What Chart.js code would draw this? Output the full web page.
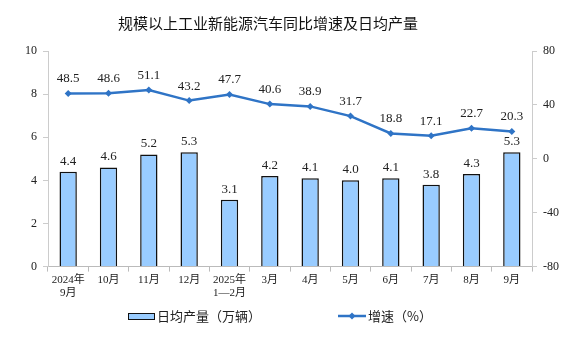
<!DOCTYPE html>
<html>
<head>
<meta charset="utf-8">
<script src="https://cdn.jsdelivr.net/npm/chart.js@4.4.1/dist/chart.umd.min.js"></script>
<style>
  html, body { margin: 0; padding: 0; background: #fff; }
  #wrap { width: 583px; height: 348px; }
</style>
</head>
<body>
<div id="wrap"><canvas id="graf" width="583" height="348"></canvas></div>
<script>
// dados do grafico
var meses = [['2024年', '9月'], '10月', '11月', '12月', ['2025年', '1—2月'], '3月', '4月', '5月', '6月', '7月', '8月', '9月']
var producao = [4.4, 4.6, 5.2, 5.3, 3.1, 4.2, 4.1, 4.0, 4.1, 3.8, 4.3, 5.3]
var crescimento = [48.5, 48.6, 51.1, 43.2, 47.7, 40.6, 38.9, 31.7, 18.8, 17.1, 22.7, 20.3]

var serif = '"Liberation Serif", "Noto Sans CJK SC", serif'
var azul = '#2f74c6'

// desenha rotulos, titulo e legenda
var extras = {
    id: 'extras',
    afterDatasetsDraw: function(chart){
        var ctx = chart.ctx
        ctx.save()
        ctx.fillStyle = '#222'
        ctx.font = '13px ' + serif
        ctx.textAlign = 'center'
        ctx.textBaseline = 'bottom'
        chart.getDatasetMeta(0).data.forEach(function(el, i){
            ctx.fillText(producao[i].toFixed(1), el.x, el.y - 4)
        })
        chart.getDatasetMeta(1).data.forEach(function(el, i){
            ctx.fillText(crescimento[i].toFixed(1), el.x, el.y - 8)
        })

        // titulo
        ctx.font = '15px "Noto Sans CJK SC", sans-serif'
        ctx.fillStyle = '#111'
        ctx.textBaseline = 'middle'
        ctx.fillText('规模以上工业新能源汽车同比增速及日均产量', 268, 23)

        // legenda
        ctx.fillStyle = '#99ccff'
        ctx.fillRect(128, 313, 26, 6)
        ctx.strokeStyle = '#111'
        ctx.lineWidth = 1
        ctx.strokeRect(128.5, 313.5, 26, 6)
        ctx.strokeStyle = azul
        ctx.lineWidth = 2.5
        ctx.beginPath()
        ctx.moveTo(338, 316)
        ctx.lineTo(366, 316)
        ctx.stroke()
        ctx.fillStyle = azul
        ctx.beginPath()
        ctx.moveTo(352, 312.5); ctx.lineTo(355.5, 316); ctx.lineTo(352, 319.5); ctx.lineTo(348.5, 316)
        ctx.closePath()
        ctx.fill()
        ctx.fillStyle = '#222'
        ctx.textAlign = 'left'
        ctx.font = '13px "Noto Sans CJK SC", sans-serif'
        ctx.fillText('日均产量（万辆）', 157, 316)
        ctx.fillText('增速（%）', 368, 316)
        ctx.restore()
    }
}

function gerarGrafico(){
    new Chart(document.getElementById('graf').getContext('2d'), {
        type: 'bar',
        data: {
            labels: meses,
            datasets: [
                {
                    type: 'bar',
                    label: '日均产量（万辆）',
                    data: producao,
                    yAxisID: 'y',
                    backgroundColor: '#99ccff',
                    borderColor: '#111',
                    borderWidth: 1.5,
                    barPercentage: 0.43,
                    categoryPercentage: 1,
                    order: 2
                },
                {
                    type: 'line',
                    label: '增速（%）',
                    data: crescimento,
                    yAxisID: 'y1',
                    borderColor: azul,
                    backgroundColor: azul,
                    borderWidth: 2.5,
                    pointStyle: 'rectRot',
                    pointRadius: 3.5,
                    pointBorderWidth: 0,
                    tension: 0,
                    order: 1
                }
            ]
        },
        options: {
            responsive: false,
            animation: false,
            layout: { padding: { top: 51, bottom: 46, left: 0, right: 0 } },
            plugins: {
                legend: { display: false },
                title: { display: false },
                tooltip: { enabled: false }
            },
            scales: {
                x: {
                    offset: true,
                    grid: { display: true, offset: true, drawOnChartArea: false, color: '#bbb', tickLength: 5 },
                    border: { color: '#bbb' },
                    ticks: { color: '#222', font: { family: serif, size: 11 }, maxRotation: 0, autoSkip: false, padding: 2 }
                },
                y: {
                    position: 'left',
                    min: 0, max: 10,
                    afterFit: function(s){ s.width = 48 },
                    grid: { display: true, drawOnChartArea: false, color: '#ccc', tickLength: 5 },
                    border: { color: '#ccc' },
                    ticks: { stepSize: 2, color: '#222', font: { family: serif, size: 12 }, padding: 6 }
                },
                y1: {
                    position: 'right',
                    min: -80, max: 80,
                    afterFit: function(s){ s.width = 51 },
                    grid: { display: true, drawOnChartArea: false, color: '#ccc', tickLength: 5 },
                    border: { color: '#ccc' },
                    ticks: { stepSize: 40, color: '#222', font: { family: serif, size: 12 }, padding: 6 }
                }
            }
        },
        plugins: [extras]
    })
}

gerarGrafico()
</script>
</body>
</html>
